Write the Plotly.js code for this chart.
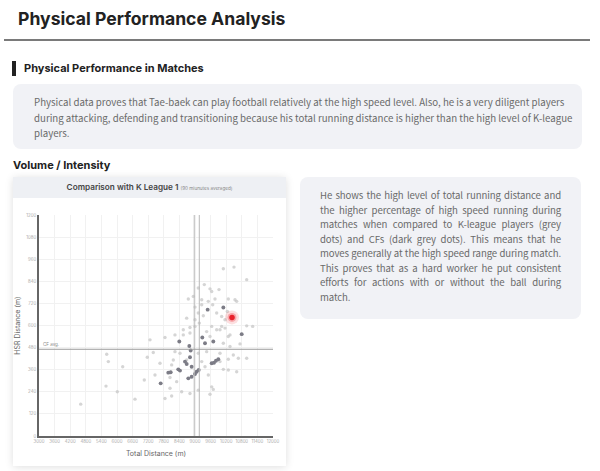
<!DOCTYPE html>
<html>
<head>
<meta charset="utf-8">
<script src="https://cdn.plot.ly/plotly-3.0.1.min.js"></script>
<style>
  html, body { margin:0; padding:0; background:#fff; }
  body { width:600px; height:471px; position:relative; overflow:hidden; }
  .abs { position:absolute; }
  .title { left:18px; top:8px; font-family:Inter, sans-serif; font-weight:700; font-size:17.6px; color:#222; white-space:nowrap; }
  .rule { left:4px; top:39px; width:586px; height:2px; background:#7a7a7a; }
  .bar { left:12px; top:61px; width:4px; height:15px; background:#222; }
  .h2 { font-family:Inter, sans-serif; font-weight:700; font-size:11px; color:#222; white-space:nowrap; }
  .box { background:#f1f2f6; border-radius:8px; }
  .body1 { font-family:"Noto Sans CJK KR", "Noto Sans", sans-serif; font-size:9.7px; line-height:15.5px; color:#6a6a6a; white-space:nowrap; }
  .body2 { font-family:"Noto Sans CJK KR", "Noto Sans", sans-serif; font-size:9.6px; letter-spacing:-0.1px; line-height:14.5px; color:#6a6a6a; }
  .jl { width:241px; white-space:normal; text-align:justify; text-align-last:justify; }
  .card { left:13px; top:177px; width:273px; height:289px; background:#fff; box-shadow:0 1px 8px rgba(0,0,0,0.13); }
  .cardhead { left:0; top:0; width:273px; height:21px; background:#eef0f4; font-family:Inter, sans-serif; font-weight:600; font-size:8.2px; color:#444; line-height:21px; text-align:center; white-space:nowrap; }
  .cardhead small { font-size:4.6px; font-weight:400; color:#888; }
</style>
</head>
<body>
<div class="abs title">Physical Performance Analysis</div>
<div class="abs rule"></div>
<div class="abs bar"></div>
<div class="abs h2" style="left:24px;top:61px;">Physical Performance in Matches</div>
<div class="abs box" style="left:13px;top:84px;width:569px;height:65px;"></div>
<div class="abs body1" style="left:34px;top:95px;">Physical data proves that Tae-baek can play football relatively at the high speed level. Also, he is a very diligent players<br>during attacking, defending and transitioning because his total running distance is higher than the high level of K-league<br>players.</div>
<div class="abs h2" style="left:13px;top:158px;font-size:11px;">Volume / Intensity</div>
<div class="abs card">
  <div class="abs cardhead">Comparison with K League 1 <small>(90 miunutes averaged)</small></div>
  <div id="chart" class="abs" style="left:0;top:21px;width:273px;height:268px;"></div>
</div>
<div class="abs box" style="left:300px;top:177px;width:281px;height:142px;"></div>
<div class="abs body2" style="left:320px;top:188px;">
  <div class="jl">He shows the high level of total running distance and</div>
  <div class="jl">the higher percentage of high speed running during</div>
  <div class="jl">matches when compared to K-league players (grey</div>
  <div class="jl">dots) and CFs (dark grey dots). This means that he</div>
  <div class="jl">moves generally at the high speed range during match.</div>
  <div class="jl">This proves that as a hard worker he put consistent</div>
  <div class="jl">efforts for actions with or without the ball during</div>
  <div style="white-space:nowrap;">match.</div>
</div>
<script>
// Axis ticks
const xTicks = [3000,3600,4200,4800,5400,6000,6600,7200,7800,8400,9000,9600,10200,10800,11400,12000];
const yTicks = [0,120,240,360,480,600,720,840,960,1080,1200];

// K League 1 players (grey dots): total distance (m), HSR distance (m)
const leagueTotal = [5604,5666,6219,7165,7396,7050,5577,6012,6692,4604,
  10090,10500,10988,9127,9358,9577,9642,9923,8935,8743,
  9258,9512,9769,10281,10538,10603,9000,9258,9680,9127,
  9834,10243,8680,9000,9320,10026,10154,10988,11218,8550,
  8807,9642,9834,10026,10154,10281,7846,8230,8550,9000,
  9448,9961,10346,10090,10346,10731,8423,9127,9448,9961,
  10474,10667,10988,8166,8102,9258,9385,10090,10281,10603,
  9512,8038,8295,9642,9704,8487,8038,7846,8102,9577,
  8230,8680,9961,8807,9165,9577,10281,9127,8807,7654,7461,7269];
const leagueHSR = [444,404,376,428,453,304,271,240,200,173,
  908,917,849,804,822,799,785,795,758,744,
  740,731,744,744,740,731,700,713,713,668,
  668,676,640,631,653,649,631,598,595,549,
  589,595,577,595,586,540,535,549,577,595,
  567,577,549,504,486,500,449,449,458,449,
  440,422,422,413,386,404,376,362,358,349,
  331,318,295,267,253,240,259,204,217,227,
  458,413,404,559,613,540,417,249,231,395,331,522];

// K League 1 CFs (dark grey dots)
const cfTotal = [9487,10090,10796,9281,8396,9385,9704,8781,8834,8807,
  8615,8680,8872,9642,9730,9807,9897,7973,8065,8357,
  8423,9064,9142,9000,8872,8743,7680];
const cfHSR = [686,698,553,535,513,504,513,489,464,428,
  404,391,376,395,398,409,417,344,346,362,
  355,349,358,337,322,313,286];

// Tae-baek
const playerTotal = [10423];
const playerHSR = [644];

// Reference lines
const avgTotalLines = [8970, 9165];
const avgHSRLine = 471;
const avgLabel = "CF avg.";

const traces = [
  { type:'scatter', mode:'markers', x:leagueTotal, y:leagueHSR, hoverinfo:'skip',
    marker:{ size:3.4, color:'rgba(195,195,195,0.7)', line:{width:0} } },
  { type:'scatter', mode:'markers', x:cfTotal, y:cfHSR, hoverinfo:'skip',
    marker:{ size:3.9, color:'#7c7c86', line:{width:0} } },
  { type:'scatter', mode:'markers', x:playerTotal, y:playerHSR, hoverinfo:'skip',
    marker:{ size:14, color:'rgba(235,40,50,0.15)', line:{width:0} } },
  { type:'scatter', mode:'markers', x:playerTotal, y:playerHSR, hoverinfo:'skip',
    marker:{ size:9, color:'rgba(235,40,50,0.3)', line:{width:0} } },
  { type:'scatter', mode:'markers', x:playerTotal, y:playerHSR, hoverinfo:'skip',
    marker:{ size:5.5, color:'#e8202a', line:{width:0} } }
];

const shapes = avgTotalLines.map(v => ({
  type:'line', xref:'x', yref:'paper', x0:v, x1:v, y0:0, y1:1,
  line:{ color:'#b8b8b8', width:1 }, layer:'above'
}));
shapes.push({ type:'line', xref:'paper', yref:'y', x0:0, x1:1, y0:avgHSRLine, y1:avgHSRLine,
  line:{ color:'#9a9a9a', width:1.2 }, layer:'above' });

const layout = {
  width:273, height:268,
  margin:{ l:26, r:13, t:17, b:30, pad:0 },
  paper_bgcolor:'#fff', plot_bgcolor:'#fff',
  showlegend:false,
  font:{ family:'Inter, sans-serif' },
  xaxis:{ range:[3000,12000], tickmode:'array', tickvals:xTicks, ticktext:xTicks.map(String),
    tickfont:{ size:4.3, color:'#aaa' }, showgrid:true, gridcolor:'#f1f1f1', gridwidth:1,
    showline:true, linecolor:'#666', linewidth:2, zeroline:false, ticks:'', fixedrange:true,
    title:{ text:'Total Distance (m)', font:{ size:7, color:'#666' }, standoff:8 } },
  yaxis:{ range:[0,1200], tickmode:'array', tickvals:yTicks, ticktext:yTicks.map(String),
    tickfont:{ size:4.3, color:'#aaa' }, showgrid:true, gridcolor:'#f1f1f1', gridwidth:1,
    showline:true, linecolor:'#666', linewidth:2, zeroline:false, ticks:'', fixedrange:true,
    title:{ text:'HSR Distance (m)', font:{ size:7, color:'#666' }, standoff:6 } },
  shapes: shapes,
  annotations:[{ xref:'paper', yref:'y', x:0.01, y:avgHSRLine, xanchor:'left', yanchor:'bottom',
    text:avgLabel, showarrow:false, font:{ size:4.5, color:'#888' } }]
};

Plotly.newPlot('chart', traces, layout, { staticPlot:true, displayModeBar:false });
</script>
</body>
</html>
